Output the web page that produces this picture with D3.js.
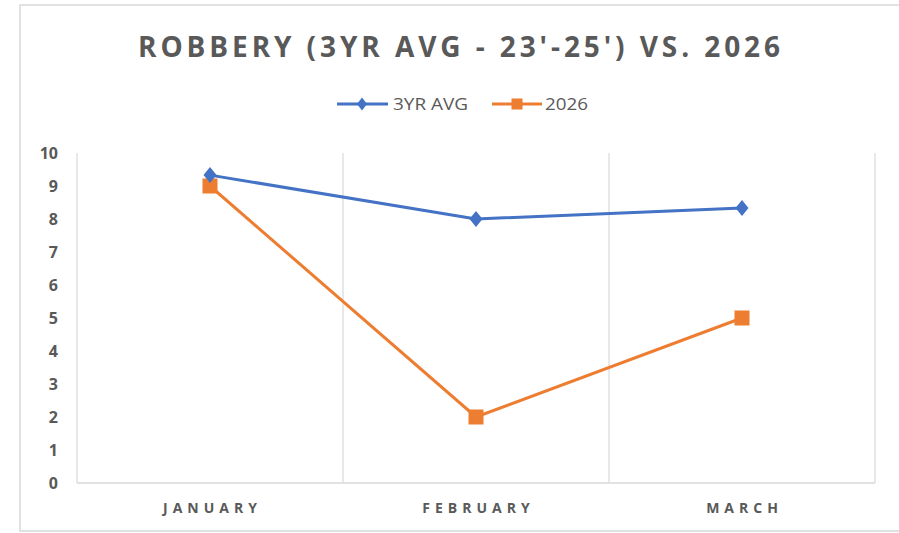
<!DOCTYPE html>
<html>
<head>
<meta charset="utf-8">
<script src="https://cdn.jsdelivr.net/npm/d3@7"></script>
<style>
  body { margin: 0; background: #fff; }
  text { font-family: "Open Sans", "Noto Sans", sans-serif; }
</style>
</head>
<body>
<div id="chart"></div>
<script>
const width = 899;
const height = 533;

// data
const months = ["JANUARY", "FEBRUARY", "MARCH"];
const avg3yr = [9.33, 8.0, 8.33];
const y2026 = [9, 2, 5];
const yTicks = [0, 1, 2, 3, 4, 5, 6, 7, 8, 9, 10];
const seriesNames = ["3YR AVG", "2026"];

const blue = "#4472C4";
const orange = "#ED7D31";
const gray = "#595959";

const margin = { top: 153, left: 77, bottom: 50, right: 24 };

const svg = d3.select("#chart").append("svg")
    .attr("width", width)
    .attr("height", height);

// outer chart border
svg.append("rect")
    .attr("x", 20).attr("y", 5)
    .attr("width", width - 20 + 2).attr("height", 526)
    .attr("fill", "#fff")
    .attr("stroke", "#d9d9d9")
    .attr("stroke-width", 1.5);

const xScale = d3.scaleBand()
    .domain(months)
    .range([margin.left, width - margin.right]);

const yScale = d3.scaleLinear()
    .domain([0, 10])
    .range([height - margin.bottom, margin.top]);

// vertical gridlines on category boundaries
const bounds = months.map(m => xScale(m)).concat([xScale.range()[1]]);
svg.append("g")
    .selectAll("line")
    .data(bounds)
    .join("line")
    .attr("x1", d => d).attr("x2", d => d)
    .attr("y1", yScale(10)).attr("y2", yScale(0))
    .attr("stroke", "#d9d9d9")
    .attr("stroke-width", 1.2);

// bottom axis line
svg.append("line")
    .attr("x1", xScale.range()[0]).attr("x2", xScale.range()[1])
    .attr("y1", yScale(0)).attr("y2", yScale(0))
    .attr("stroke", "#d9d9d9")
    .attr("stroke-width", 1.5);

// y tick labels
svg.append("g")
    .selectAll("text")
    .data(yTicks)
    .join("text")
    .attr("x", 58)
    .attr("y", d => yScale(d))
    .attr("dy", "0.36em")
    .attr("text-anchor", "end")
    .attr("fill", gray)
    .attr("font-size", 16)
    .attr("font-weight", "bold")
    .text(d => d);

// x labels
svg.append("g")
    .selectAll("text")
    .data(months)
    .join("text")
    .attr("x", d => xScale(d) + xScale.bandwidth() / 2 + 2.5)
    .attr("y", 513)
    .attr("text-anchor", "middle")
    .attr("fill", gray)
    .attr("font-size", 14)
    .attr("font-weight", "bold")
    .attr("letter-spacing", 5)
    .text(d => d);

const cx = d => xScale(d) + xScale.bandwidth() / 2;

const line = d3.line()
    .x(d => cx(d.m))
    .y(d => yScale(d.v));

const avgData = months.map((m, i) => ({ m: m, v: avg3yr[i] }));
const newData = months.map((m, i) => ({ m: m, v: y2026[i] }));

// 2026 series
svg.append("path")
    .datum(newData)
    .attr("fill", "none")
    .attr("stroke", orange)
    .attr("stroke-width", 3)
    .attr("d", line);

svg.append("g")
    .selectAll("rect")
    .data(newData)
    .join("rect")
    .attr("x", d => cx(d.m) - 7.5)
    .attr("y", d => yScale(d.v) - 7.5)
    .attr("width", 15).attr("height", 15)
    .attr("fill", orange);

// 3yr avg series
svg.append("path")
    .datum(avgData)
    .attr("fill", "none")
    .attr("stroke", blue)
    .attr("stroke-width", 3)
    .attr("d", line);

const diamondPath = (w, h) => `M0,${-h / 2}L${w / 2},0L0,${h / 2}L${-w / 2},0Z`;
svg.append("g")
    .selectAll("path")
    .data(avgData)
    .join("path")
    .attr("transform", d => `translate(${cx(d.m)},${yScale(d.v)})`)
    .attr("d", diamondPath(13, 16))
    .attr("fill", blue);

// title
svg.append("text")
    .attr("x", 459)
    .attr("y", 57)
    .attr("text-anchor", "middle")
    .attr("fill", gray)
    .attr("font-size", 28)
    .attr("font-weight", "bold")
    .attr("textLength", 642)
    .attr("lengthAdjust", "spacing")
    .text("ROBBERY (3YR AVG - 23'-25') VS. 2026");

// legend
const ly = 104;
const legend = svg.append("g");
legend.append("line")
    .attr("x1", 337).attr("x2", 388).attr("y1", ly).attr("y2", ly)
    .attr("stroke", blue).attr("stroke-width", 3);
legend.append("path")
    .attr("transform", `translate(362,${ly})`)
    .attr("d", diamondPath(10, 13))
    .attr("fill", blue);
legend.append("text")
    .attr("x", 393).attr("y", ly).attr("dy", "0.36em")
    .attr("fill", gray).attr("font-size", 17)
    .attr("textLength", 75).attr("lengthAdjust", "spacingAndGlyphs")
    .text(seriesNames[0]);

legend.append("line")
    .attr("x1", 492).attr("x2", 542).attr("y1", ly).attr("y2", ly)
    .attr("stroke", orange).attr("stroke-width", 3);
legend.append("rect")
    .attr("x", 511.5).attr("y", ly - 5.5).attr("width", 11).attr("height", 11)
    .attr("fill", orange);
legend.append("text")
    .attr("x", 545).attr("y", ly).attr("dy", "0.36em")
    .attr("fill", gray).attr("font-size", 17)
    .attr("textLength", 43).attr("lengthAdjust", "spacingAndGlyphs")
    .text(seriesNames[1]);
</script>
</body>
</html>
